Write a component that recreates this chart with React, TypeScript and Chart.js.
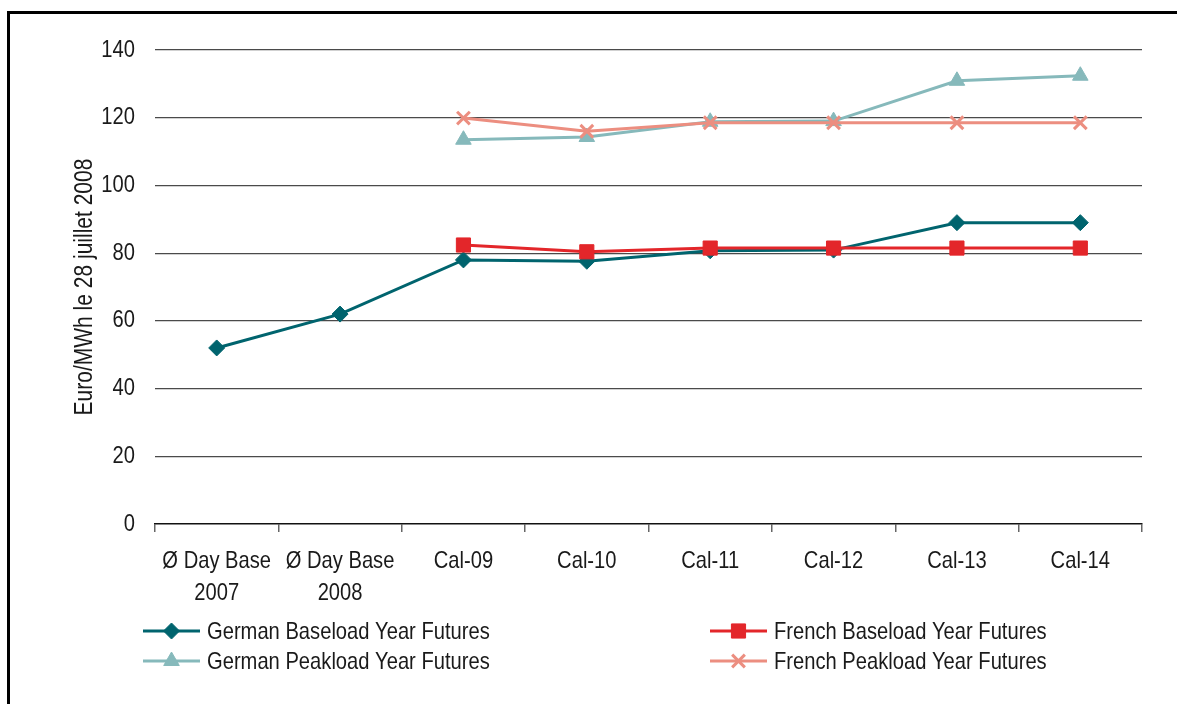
import React, { useEffect, useRef } from "react";
import { Chart, registerables } from "chart.js";
import { drawPoint } from "chart.js/helpers";

Chart.register(...registerables);

const categories: (string | string[])[] = [
  ["Ø Day Base", "2007"],
  ["Ø Day Base", "2008"],
  "Cal-09",
  "Cal-10",
  "Cal-11",
  "Cal-12",
  "Cal-13",
  "Cal-14",
];

const germanBase: (number | null)[] = [52, 62, 78, 77.6, 80.7, 80.9, 89, 89];
const frenchBase: (number | null)[] = [null, null, 82.4, 80.4, 81.5, 81.5, 81.5, 81.5];
const germanPeak: (number | null)[] = [null, null, 113.5, 114.3, 118.8, 119, 130.9, 132.4];
const frenchPeak: (number | null)[] = [null, null, 119.9, 116, 118.5, 118.5, 118.5, 118.5];

const yTicks = [0, 20, 40, 60, 80, 100, 120, 140];

const FONT = "'Liberation Sans', Arial, sans-serif";
const TEXT = "#1a1a1a";
const NARROW = 0.84;

function makeNarrow(ctx: any) {
  if (ctx.__narrow) return;
  ctx.__narrow = true;
  const origFill = ctx.fillText.bind(ctx);
  const origMeasure = ctx.measureText.bind(ctx);
  ctx.fillText = (text: string, x: number, y: number, maxWidth?: number) => {
    ctx.save();
    ctx.translate(x, y);
    ctx.scale(NARROW, 1);
    if (maxWidth === undefined) origFill(text, 0, 0);
    else origFill(text, 0, 0, maxWidth / NARROW);
    ctx.restore();
  };
  ctx.measureText = (text: string) => {
    const m = origMeasure(text);
    return {
      width: m.width * NARROW,
      actualBoundingBoxAscent: m.actualBoundingBoxAscent,
      actualBoundingBoxDescent: m.actualBoundingBoxDescent,
      actualBoundingBoxLeft: m.actualBoundingBoxLeft * NARROW,
      actualBoundingBoxRight: m.actualBoundingBoxRight * NARROW,
    };
  };
}

const legendPlugin = {
  id: "gridLegend",
  afterDraw(chart: any) {
    const { ctx, chartArea } = chart;
    const order = [0, 1, 2, 3];
    const colX = [chartArea.left - 12, chartArea.left + 555];
    const rowY = [chartArea.bottom + 107, chartArea.bottom + 137];
    ctx.save();
    order.forEach((di, k) => {
      const ds = chart.data.datasets[di];
      const x = colX[k % 2];
      const y = rowY[Math.floor(k / 2)];
      ctx.strokeStyle = ds.borderColor;
      ctx.fillStyle = ds.borderColor;
      ctx.lineWidth = 3;
      ctx.beginPath();
      ctx.moveTo(x, y);
      ctx.lineTo(x + 57, y);
      ctx.stroke();
      ctx.lineWidth = ds.pointStyle === "crossRot" ? 3 : 1;
      drawPoint(
        ctx,
        {
          pointStyle: ds.pointStyle,
          radius: ds.pointRadius,
          borderWidth: ds.pointStyle === "crossRot" ? 3 : 1,
          rotation: 0,
        } as any,
        x + 28.5,
        y
      );
      ctx.fillStyle = TEXT;
      ctx.font = `24px ${FONT}`;
      ctx.textBaseline = "middle";
      ctx.textAlign = "left";
      ctx.fillText(ds.label, x + 64, y + 1);
    });
    ctx.restore();
  },
};

export default function App() {
  const ref = useRef<HTMLCanvasElement | null>(null);

  useEffect(() => {
    document.body.style.margin = "0";
    const canvas = ref.current!;
    makeNarrow(canvas.getContext("2d"));
    const mk = (label: string, data: (number | null)[], color: string, style: string, radius: number, order: number) => ({
      label,
      data,
      borderColor: color,
      backgroundColor: color,
      pointBackgroundColor: color,
      pointBorderColor: color,
      pointStyle: style,
      pointRadius: radius,
      pointBorderWidth: style === "crossRot" ? 3 : 1,
      borderWidth: 3,
      tension: 0,
      spanGaps: false,
      order,
    });
    const chart = new Chart(canvas, {
      type: "line",
      data: {
        labels: categories,
        datasets: [
          mk("German Baseload Year Futures", germanBase, "#00646e", "rectRot", 8, 4),
          mk("French Baseload Year Futures", frenchBase, "#e3262a", "rect", 10, 3),
          mk("German Peakload Year Futures", germanPeak, "#86b9bb", "triangle", 9, 2),
          mk("French Peakload Year Futures", frenchPeak, "#ec8e80", "crossRot", 9, 1),
        ] as any,
      },
      options: {
        animation: false,
        responsive: false,
        maintainAspectRatio: false,
        layout: { padding: { left: 0, right: 35, top: 50, bottom: 90 } },
        plugins: {
          legend: { display: false },
          tooltip: { enabled: false },
        },
        scales: {
          x: {
            offset: true,
            grid: {
              offset: true,
              drawOnChartArea: false,
              drawTicks: true,
              tickLength: 8,
              color: "#666666",
              lineWidth: 1.5,
            },
            border: { display: true, color: "#111111", width: 1.5 },
            ticks: {
              color: TEXT,
              font: { family: FONT, size: 24, lineHeight: 1.33 },
              padding: 13,
              maxRotation: 0,
              autoSkip: false,
            },
            afterFit(scale: any) {
              scale.height = 90;
            },
          },
          y: {
            min: 0,
            max: 140,
            afterBuildTicks(scale: any) {
              scale.ticks = yTicks.map((v) => ({ value: v }));
            },
            grid: {
              drawTicks: false,
              color: (c: any) => (c.tick && c.tick.value === 0 ? "rgba(0,0,0,0)" : "#4a4a4a"),
              lineWidth: 1.2,
            },
            border: { display: false },
            ticks: {
              color: TEXT,
              font: { family: FONT, size: 24 },
              padding: 20,
            },
            title: {
              display: true,
              text: "Euro/MWh le 28 juillet 2008",
              color: TEXT,
              font: { family: FONT, size: 25 },
              padding: { top: 70, bottom: 0 },
            },
            afterFit(scale: any) {
              scale.width = 155;
            },
          },
        },
      },
      plugins: [legendPlugin],
    });
    return () => chart.destroy();
  }, []);

  return (
    <div style={{ position: "relative", width: 1177, height: 704, overflow: "hidden", background: "#fff" }}>
      <canvas ref={ref} width={1177} height={704} style={{ position: "absolute", left: 0, top: 0, width: 1177, height: 704 }} />
      <div
        style={{
          position: "absolute",
          left: 7,
          top: 11,
          width: 1200,
          height: 720,
          border: "3px solid #000",
          boxSizing: "border-box",
          pointerEvents: "none",
        }}
      />
    </div>
  );
}
